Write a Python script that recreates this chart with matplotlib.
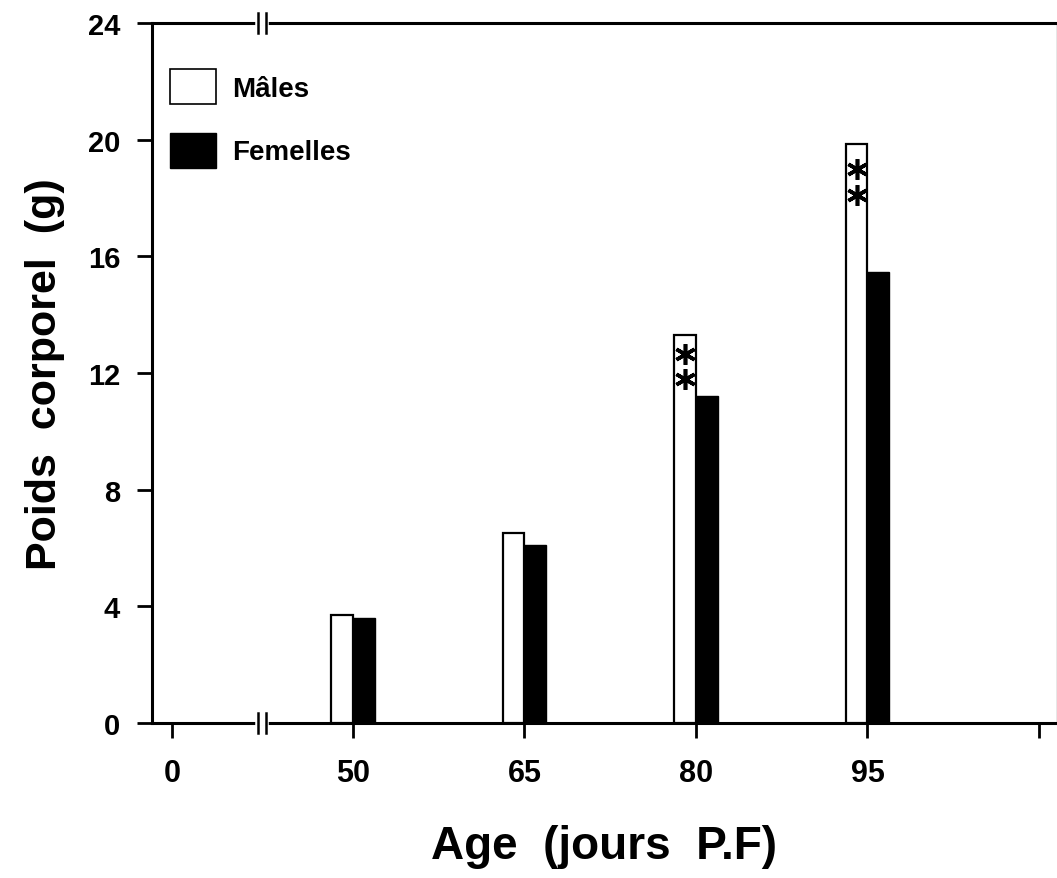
import numpy as np
import matplotlib
matplotlib.use("Agg")
import matplotlib.pyplot as plt
from matplotlib.patches import Patch

# donnees
ages = ["50", "65", "80", "95"]
males = [3.7, 6.5, 13.3, 19.85]
femelles = [3.6, 6.1, 11.2, 15.45]
# asterisques (signification) sur les barres des males
etoiles_age = ["80", "80", "95", "95"]
etoiles_y = [12.65, 11.8, 19.0, 18.1]
tick_labels = ["0", "50", "65", "80", "95", ""]
yticks = [0, 4, 8, 12, 16, 20, 24]

plt.rcParams['font.family'] = ['Liberation Sans', 'DejaVu Sans']

fig = plt.figure(figsize=(10.57, 8.79), dpi=100)
ax = fig.add_axes([0.1438, 0.1763, 0.8562, 0.7964])

pos = np.arange(1, len(ages) + 1)
w = 0.128
ax.bar(pos - w / 2, males, width=w, color='white', edgecolor='black', linewidth=1.6, zorder=3)
ax.bar(pos + w / 2, femelles, width=w, color='black', edgecolor='black', linewidth=1.0, zorder=3)

ex = [pos[ages.index(a)] - w / 2 for a in etoiles_age]
ax.plot(ex, etoiles_y, linestyle='none', marker=(6, 2, 0), markersize=15,
        markeredgewidth=2.6, color='black', zorder=4)

ax.set_xlim(-0.172, 5.105)
ax.set_ylim(0, 24)
ax.set_yticks(yticks)
ax.set_xticks([-0.055, 1, 2, 3, 4, 5])
ax.set_xticklabels(tick_labels)
ax.tick_params(axis='both', direction='out', length=11, width=2)
ax.tick_params(axis='y', pad=12, labelsize=21)
ax.tick_params(axis='x', pad=14, labelsize=22)
for lab in ax.get_xticklabels() + ax.get_yticklabels():
    lab.set_fontweight('bold')

for s in ['left', 'bottom', 'top']:
    ax.spines[s].set_linewidth(2.2)
ax.spines['right'].set_linewidth(1.0)
ax.spines['right'].set_color('#888888')

# coupures de l'axe
xb = 0.469
for yb in [0, 24]:
    ax.plot([xb - 0.025, xb + 0.025], [yb, yb], color='white', lw=4, clip_on=False, zorder=5)
    for dx in [-0.022, 0.022]:
        ax.plot([xb + dx, xb + dx], [yb - 0.35, yb + 0.35], color='black', lw=1.8,
                clip_on=False, zorder=6)

ax.set_ylabel("Poids  corporel  (g)", fontsize=31, fontweight='bold', labelpad=16)
ax.set_xlabel("Age  (jours  P.F)", fontsize=33, fontweight='bold', labelpad=26)

handles = [Patch(facecolor='white', edgecolor='black', linewidth=1.2, label='Mâles'),
           Patch(facecolor='black', edgecolor='black', label='Femelles')]
leg = ax.legend(handles=handles, loc='upper left', bbox_to_anchor=(-0.008, 0.97), frameon=False,
                handlelength=1.65, handleheight=1.55, labelspacing=1.05,
                handletextpad=0.6, prop={'weight': 'bold', 'size': 20})

fig.savefig("out.png", dpi=100)
